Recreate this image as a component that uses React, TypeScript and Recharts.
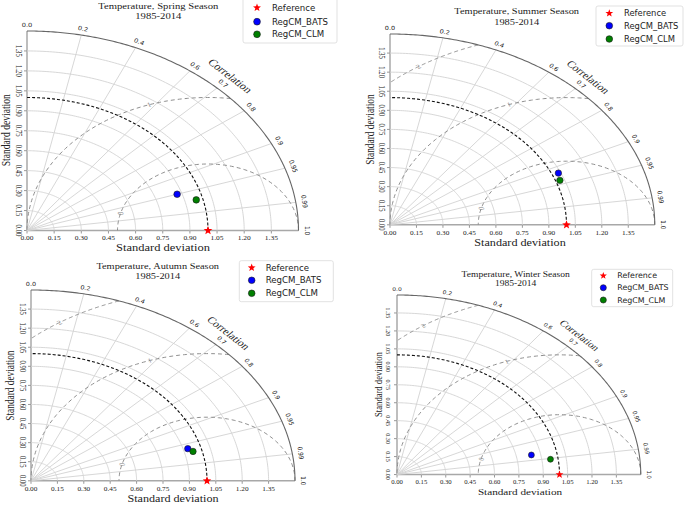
import React from 'react';
import { ScatterChart, Scatter, XAxis, YAxis, ReferenceDot } from 'recharts';

// ---------------- data ----------------
const seasons = ['Spring', 'Summer', 'Autumn', 'Winter'];
const period = '1985-2014';
const refStd = [1.0, 1.0, 1.0, 1.0];
const batsStd = [0.873, 1.037, 0.926, 0.843];
const batsCorr = [0.95, 0.92, 0.962, 0.981];
const clmStd = [0.963, 1.024, 0.949, 0.953];
const clmCorr = [0.971, 0.94, 0.97, 0.991];
const stdTicks = [0, 0.15, 0.3, 0.45, 0.6, 0.75, 0.9, 1.05, 1.2, 1.35];
const corrTicks = [0, 0.2, 0.4, 0.6, 0.7, 0.8, 0.9, 0.95, 0.99, 1.0];
const corrTickLabels = ['0.0', '0.2', '0.4', '0.6', '0.7', '0.8', '0.9', '0.95', '0.99', '1.0'];
const rmsLevels = [0.5, 1.0, 1.5];
const rmsLabels = ['0', '1', '2'];
const rmsShown = [2, 3, 3, 3];
const seriesNames = ['Reference', 'RegCM_BATS', 'RegCM_CLM'];
const STD_MAX = 1.5;

// ---------------- layout ----------------
const TS = 1.3; // horizontal text stretch
const TICK_TS = 1.1;
const layout = [
  { ox: 26.7, oy: 230, sx: 181, sy: 133, tx: 158.3, ty: 6, xlx: 163, ylx: 6,
    lg: { x: 243, y: -2, w: 94, h: 45, rows: [9.7, 23.7, 36.3], mx: 14, tx: 29, fs: 8.6 } },
  { ox: 390, oy: 225, sx: 176.5, sy: 127.2, tx: 516.7, ty: 11.7, xlx: 520, ylx: 370,
    lg: { x: 596, y: 6, w: 87, h: 40, rows: [7.3, 19.7, 33], mx: 13.3, tx: 28, fs: 8.4 } },
  { ox: 30.7, oy: 481, sx: 176, sy: 127.2, tx: 157.7, ty: 266, xlx: 173, ylx: 10,
    lg: { x: 239.3, y: 260.7, w: 94, h: 41, rows: [7, 19.6, 32.6], mx: 12.4, tx: 26.4, fs: 8.6 } },
  { ox: 397.3, oy: 474.3, sx: 162.5, sy: 119.7, tx: 515.7, ty: 274, xlx: 520, ylx: 378.3,
    lg: { x: 591.7, y: 269.3, w: 81, h: 37.4, rows: [6.4, 18.4, 30.7], mx: 11.6, tx: 25.6, fs: 7.9 } },
];

const rad = Math.PI / 180;
const clampPt = (x: number, y: number) => ({
  x: Math.min(STD_MAX, Math.max(0, x)),
  y: Math.min(STD_MAX, Math.max(0, y)),
});
function arc(r: number, a0: number, a1: number, n = 120) {
  const pts = [];
  for (let i = 0; i <= n; i++) {
    const a = (a0 + ((a1 - a0) * i) / n) * rad;
    pts.push(clampPt(r * Math.cos(a), r * Math.sin(a)));
  }
  return pts;
}
function rmsArc(ref: number, R: number, n = 120) {
  let phi1 = 0;
  if (ref + R > STD_MAX) {
    const xi = (STD_MAX * STD_MAX - R * R + ref * ref) / (2 * ref);
    const c1 = Math.max(-1, Math.min(1, (xi - ref) / R));
    phi1 = Math.acos(c1) / rad;
  }
  const phi2 = R > ref ? Math.acos(-ref / R) / rad : 180;
  const pts = [];
  for (let i = 0; i <= n; i++) {
    const p = (phi1 + ((phi2 - phi1) * i) / n) * rad;
    pts.push(clampPt(ref + R * Math.cos(p), R * Math.sin(p)));
  }
  return pts;
}
const polar = (std: number, corr: number) => ({
  x: std * corr,
  y: std * Math.sqrt(Math.max(0, 1 - corr * corr)),
});
function starPath(cx: number, cy: number, R: number) {
  const r = R * 0.42;
  let d = '';
  for (let i = 0; i < 10; i++) {
    const a = (-90 + i * 36) * rad;
    const rr = i % 2 === 0 ? R : r;
    d += (i === 0 ? 'M' : 'L') + (cx + rr * Math.cos(a)).toFixed(2) + ',' + (cy + rr * Math.sin(a)).toFixed(2);
  }
  return d + 'Z';
}
const NoShape = () => <g />;

const gridArcs = stdTicks.slice(1).map((r) => arc(r, 0, 90));
const radialLines = corrTicks
  .filter((c) => c > 0 && c < 1)
  .map((c) => [{ x: 0, y: 0 }, clampPt(STD_MAX * c, STD_MAX * Math.sqrt(1 - c * c))]);
const outerArc = arc(STD_MAX, 0, 90, 180);
const rmsLabelPhi = [165, 109, 124];

function TaylorPanel({ idx }: { idx: number }) {
  const L = layout[idx];
  const k = L.sx / 181;
  const padL = 30, padT = 40, padR = 50, padB = 30;
  const W = STD_MAX * L.sx + padL + padR;
  const H = STD_MAX * L.sy + padT + padB;
  const left = L.ox - padL;
  const top = L.oy - STD_MAX * L.sy - padT;
  const ref = refStd[idx];
  const nR = rmsShown[idx];
  const tickFs = 6.8 * k;

  const XTick = (p: any) => (
    <text transform={`translate(${p.x},${p.y}) scale(${TICK_TS},1)`} textAnchor="middle" dy="0.72em"
      fontSize={tickFs} fontFamily="'Liberation Serif', serif" fill="#222">
      {Number(p.payload.value).toFixed(2)}
    </text>
  );
  const YTick = (p: any) => (
    <text transform={`translate(${p.x},${p.y}) scale(${TICK_TS},1) rotate(90)`} textAnchor="middle" dy="0.7em"
      fontSize={tickFs} fontFamily="'Liberation Serif', serif" fill="#222">
      {Number(p.payload.value).toFixed(2)}
    </text>
  );

  const markerR = 3.3 * k;
  return (
    <div style={{ position: 'absolute', left, top, width: W, height: H }}>
      <ScatterChart width={W} height={H} margin={{ top: padT, right: padR, bottom: 0, left: 0 }}>
        <XAxis type="number" dataKey="x" domain={[0, STD_MAX]} ticks={stdTicks} interval={0}
          height={padB} tickSize={3} tickMargin={2}
          axisLine={{ stroke: '#a8a8a8', strokeWidth: 1.5 }} tickLine={{ stroke: '#999' }} tick={XTick} />
        <YAxis type="number" dataKey="y" domain={[0, STD_MAX]} ticks={stdTicks} interval={0}
          width={padL} tickSize={3} tickMargin={3}
          axisLine={{ stroke: '#a8a8a8', strokeWidth: 1.5 }} tickLine={{ stroke: '#999' }} tick={YTick} />
        {gridArcs.map((pts, i) => (
          <Scatter key={'ga' + i} data={pts} fill="none" shape={NoShape} isAnimationActive={false}
            line={{ stroke: '#d3d3d3', strokeWidth: 0.9 }} legendType="none" />
        ))}
        {radialLines.map((pts, i) => (
          <Scatter key={'rl' + i} data={pts} fill="none" shape={NoShape} isAnimationActive={false}
            line={{ stroke: '#d3d3d3', strokeWidth: 0.9 }} legendType="none" />
        ))}
        {rmsLevels.slice(0, nR).map((R, i) => (
          <Scatter key={'rms' + i} data={rmsArc(ref, R)} fill="none" shape={NoShape} isAnimationActive={false}
            line={{ stroke: '#8f8f8f', strokeWidth: 1, strokeDasharray: '4 3' }} legendType="none" />
        ))}
        <Scatter data={arc(ref, 0, 90)} fill="none" shape={NoShape} isAnimationActive={false}
          line={{ stroke: '#111', strokeWidth: 1.1, strokeDasharray: '3 2' }} legendType="none" />
        <Scatter data={outerArc} fill="none" shape={NoShape} isAnimationActive={false}
          line={{ stroke: '#666', strokeWidth: 1.1 }} legendType="none" />

        {corrTicks.map((c, i) => {
          const r = 1.55;
          const th = Math.acos(c) / rad;
          return (
            <ReferenceDot key={'ct' + i} x={r * c} y={r * Math.sqrt(1 - c * c)} r={0} ifOverflow="visible"
              shape={(p: any) => (
                <text transform={`translate(${p.cx},${p.cy}) scale(1.15,1) rotate(${90 - th})`}
                  textAnchor="middle" dominantBaseline="central" fontSize={5.8 * k}
                  fontFamily="'DejaVu Sans', sans-serif" fill="#222">{corrTickLabels[i]}</text>
              )} />
          );
        })}
        <ReferenceDot x={1.618 * Math.cos(46 * rad)} y={1.618 * Math.sin(46 * rad)} r={0} ifOverflow="visible"
          shape={(p: any) => (
            <text transform={`translate(${p.cx},${p.cy}) scale(${TS},1) rotate(45)`}
              textAnchor="middle" dominantBaseline="central" fontSize={9.6 * k}
              fontFamily="'Liberation Serif', serif" fill="#222">Correlation</text>
          )} />
        {rmsLevels.slice(0, nR).map((R, i) => {
          const phi = rmsLabelPhi[i];
          const alpha = Math.atan2(-Math.cos(phi * rad), Math.sin(phi * rad)) / rad;
          return (
            <ReferenceDot key={'rlb' + i} x={ref + R * Math.cos(phi * rad)} y={R * Math.sin(phi * rad)} r={0}
              ifOverflow="visible"
              shape={(p: any) => (
                <text transform={`translate(${p.cx},${p.cy}) scale(${TS},1) rotate(${-alpha})`}
                  textAnchor="middle" dominantBaseline="central" fontSize={6.5 * k}
                  fontFamily="'Liberation Serif', serif" fill="#888">{rmsLabels[i]}</text>
              )} />
          );
        })}

        <Scatter data={[polar(batsStd[idx], batsCorr[idx])]} fill="#0000ff" isAnimationActive={false}
          shape={(p: any) => <circle cx={p.cx} cy={p.cy} r={markerR} fill="#0000ff" stroke="#1a1a1a" strokeWidth={0.6} />} />
        <Scatter data={[polar(clmStd[idx], clmCorr[idx])]} fill="#008000" isAnimationActive={false}
          shape={(p: any) => <circle cx={p.cx} cy={p.cy} r={markerR} fill="#008000" stroke="#1a1a1a" strokeWidth={0.6} />} />
        <Scatter data={[{ x: ref, y: 0 }]} fill="#ff0000" isAnimationActive={false}
          shape={(p: any) => <path d={starPath(p.cx, p.cy, 4.6 * k)} fill="#ff0000" />} />
      </ScatterChart>
    </div>
  );
}

function Overlay() {
  return (
    <svg width={685} height={505} style={{ position: 'absolute', left: 0, top: 0, pointerEvents: 'none' }}>
      {layout.map((L, i) => {
        const k = L.sx / 181;
        const g = L.lg;
        const serif = "'Liberation Serif', serif";
        return (
          <g key={i}>
            <text transform={`translate(${L.tx},${L.ty}) scale(${TS},1)`} textAnchor="middle"
              dominantBaseline="central" fontFamily={serif} fontSize={8.2 * k} fill="#222">
              {`Temperature, ${seasons[i]} Season`}
            </text>
            <text transform={`translate(${L.tx},${L.ty + 10.7 * k}) scale(${TS},1)`} textAnchor="middle"
              dominantBaseline="central" fontFamily={serif} fontSize={8.2 * k} fill="#222">
              {period}
            </text>
            <text transform={`translate(${L.xlx},${L.oy + 18}) scale(${TS},1)`} textAnchor="middle"
              dominantBaseline="central" fontFamily={serif} fontSize={9.6 * k} fill="#222">
              Standard deviation
            </text>
            <text transform={`translate(${L.ylx},${L.oy - 0.75 * L.sy}) scale(${TS},1) rotate(-90)`}
              textAnchor="middle" dominantBaseline="central" fontFamily={serif} fontSize={9.6 * k} fill="#222">
              Standard deviation
            </text>
            <rect x={g.x} y={g.y} width={g.w} height={g.h} rx={2} fill="#fff" stroke="#d9d9d9" strokeWidth={0.8} />
            <path d={starPath(g.x + g.mx, g.y + g.rows[0], 4.2 * k)} fill="#ff0000" />
            <circle cx={g.x + g.mx} cy={g.y + g.rows[1]} r={3.4 * k} fill="#0000ff" stroke="#1a1a1a" strokeWidth={0.6} />
            <circle cx={g.x + g.mx} cy={g.y + g.rows[2]} r={3.4 * k} fill="#008000" stroke="#1a1a1a" strokeWidth={0.6} />
            {seriesNames.map((n, j) => (
              <text key={j} x={g.x + g.tx} y={g.y + g.rows[j]} dominantBaseline="central"
                fontFamily="'DejaVu Sans', sans-serif" fontSize={g.fs} fill="#222">{n}</text>
            ))}
          </g>
        );
      })}
    </svg>
  );
}

export default function App() {
  return (
    <div style={{ position: 'absolute', left: 0, top: 0, width: 685, height: 505, background: '#fff', overflow: 'hidden' }}>
      {seasons.map((s, i) => (
        <TaylorPanel key={s} idx={i} />
      ))}
      <Overlay />
    </div>
  );
}
